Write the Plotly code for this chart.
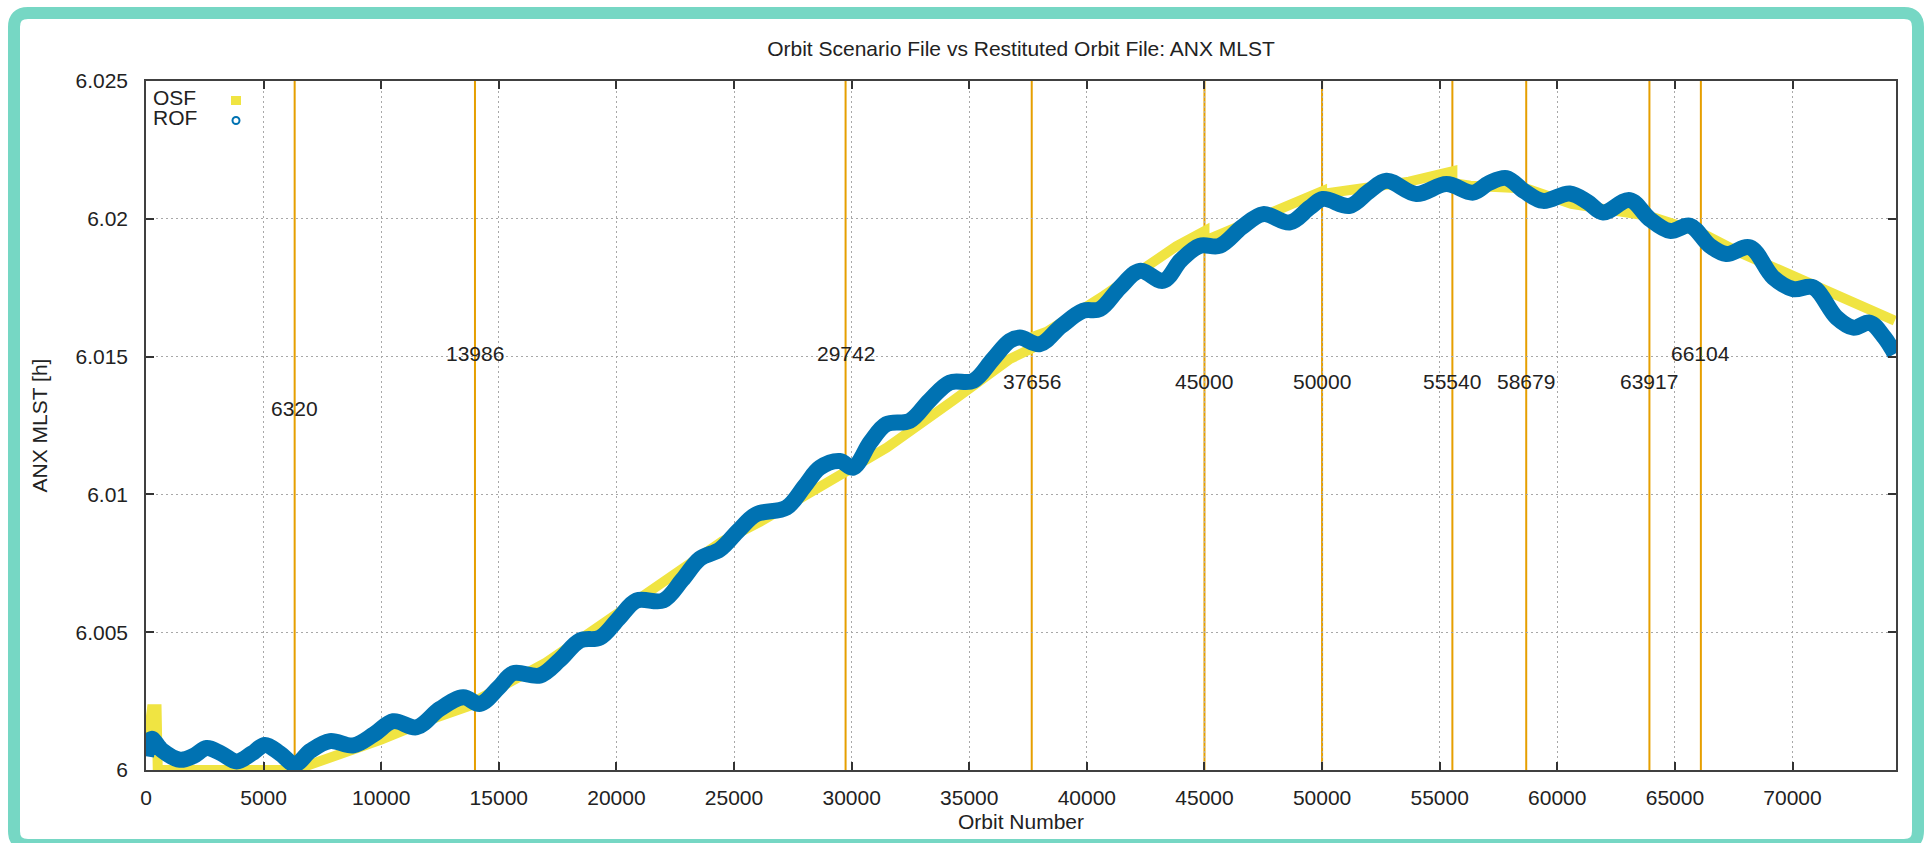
import plotly.graph_objects as go

# ---------------- data ----------------
osf_orbit = [0, 150, 250, 450, 500, 6320, 6320, 8000, 10000, 12000, 13986,
             13986, 15000, 17000, 18900, 22000, 24500, 26100, 29200, 29742,
             31500, 34300, 36700, 37656, 37656, 38300, 40700, 43800, 45000,
             45000, 48800, 50000, 50000, 53700, 55540, 55540, 56300, 58679,
             58679, 60600, 63200, 63917, 63917, 66104, 67700, 74350]
osf_mlst = [6.0006, 6.0013, 6.0022, 6.0022, 6.0000, 6.0000, 6.0000, 6.0005,
            6.0011, 6.0018, 6.0024, 6.0025, 6.0030, 6.0039, 6.0050, 6.0068,
            6.0083, 6.0090, 6.0106, 6.0108, 6.0117, 6.0134, 6.0149, 6.0153,
            6.0157, 6.0159, 6.0172, 6.0190, 6.01955, 6.0192, 6.0205, 6.0210,
            6.0209, 6.02135, 6.02172, 6.0213, 6.0212, 6.0211, 6.0211, 6.02054,
            6.0202, 6.0201, 6.0201, 6.0195, 6.0188, 6.0163]

rof_orbit = [0, 100, 240, 700, 1445, 2000, 2580, 3200, 3855, 4500, 5058, 5700,
             6334, 7000, 7820, 8815, 9700, 10515, 11505, 12500, 13490, 14200,
             15000, 15610, 16750, 17600, 18450, 19300, 20100, 20860, 21990,
             22800, 23550, 24400, 25200, 25950, 27230, 28000, 28650, 29500,
             30060, 30800, 31480, 32470, 33300, 34170, 35170, 36000, 36720,
             37150, 38000, 38900, 39840, 40550, 41400, 42250, 43250, 44000,
             44800, 45650, 46600, 47500, 48630, 49480, 50040, 51170, 52000,
             52740, 54010, 55290, 56420, 57100, 57840, 58600, 59400, 60530,
             61300, 61950, 63080, 63930, 64790, 65640, 66490, 67190, 68190,
             69180, 70030, 70880, 71870, 72580, 73290, 73900, 74350]
rof_mlst = [6.0005, 6.0009, 6.00113, 6.0007, 6.00037, 6.0005, 6.0008, 6.0006,
            6.00031, 6.0006, 6.00091, 6.0006, 6.00021, 6.0007, 6.00105,
            6.00089, 6.0013, 6.00177, 6.00155, 6.00222, 6.00264, 6.0024,
            6.0030, 6.00351, 6.00343, 6.0040, 6.0047, 6.0048, 6.0055, 6.00615,
            6.00615, 6.0069, 6.00767, 6.0080, 6.0087, 6.00928, 6.00952, 6.0103,
            6.01097, 6.01121, 6.01097, 6.0119, 6.01255, 6.01267, 6.0134,
            6.01406, 6.01412, 6.0149, 6.01557, 6.01569, 6.01545, 6.0161,
            6.01666, 6.01672, 6.0175, 6.01811, 6.01775, 6.0185, 6.01902,
            6.01902, 6.0197, 6.02017, 6.01987, 6.02041, 6.02072, 6.02047,
            6.0210, 6.02138, 6.0209, 6.02126, 6.02095, 6.0213, 6.02148, 6.0210,
            6.02065, 6.02092, 6.0206, 6.02023, 6.02068, 6.01999, 6.01956,
            6.01975, 6.01902, 6.01872, 6.01896, 6.01787, 6.01745, 6.01751,
            6.01642, 6.01605, 6.01623, 6.0157, 6.0151]

event_orbits = [6320, 13986, 29742, 37656, 45000, 50000, 55540, 58679, 63917, 66104]
event_label_y = [6.0131, 6.0151, 6.0151, 6.0141, 6.0141, 6.0141, 6.0141, 6.0141, 6.0141, 6.0151]

x_ticks = list(range(0, 70001, 5000))
x_tick_labels = [str(v) for v in x_ticks]
y_ticks = [6.0, 6.005, 6.01, 6.015, 6.02, 6.025]
y_tick_labels = ["6", "6.005", "6.01", "6.015", "6.02", "6.025"]

# ---------------- styling ----------------
W, H = 1929, 843
ML, MR, MT, MB = 146, 33, 81, 73
PW, PH = W - ML - MR, H - MT - MB
FONT = "Liberation Sans, Arial, sans-serif"
FS = 21
BLUE = "#0072B2"
YELLOW = "#F0E442"
ORANGE = "#E69F00"
TEAL = "#76D7C4"


def xp(px):
    return (px - ML) / PW


def yp(py):
    return (H - MB - py) / PH


fig = go.Figure()
fig.add_trace(go.Scatter(x=osf_orbit, y=osf_mlst, mode="lines", name="OSF",
                         line=dict(color=YELLOW, width=10), showlegend=False))
fig.add_trace(go.Scatter(x=rof_orbit, y=rof_mlst, mode="lines", name="ROF",
                         line=dict(color=BLUE, width=16, shape="spline", smoothing=1.0),
                         showlegend=False))

shapes = []
annotations = []
for orb, ly in zip(event_orbits, event_label_y):
    shapes.append(dict(type="line", xref="x", yref="paper", x0=orb, x1=orb, y0=0, y1=1,
                       line=dict(color=ORANGE, width=2), layer="between"))
    annotations.append(dict(x=orb, y=ly, xref="x", yref="y", text=str(orb), showarrow=False,
                            xanchor="center", yanchor="middle",
                            font=dict(family=FONT, size=FS, color="#222222")))

# legend (gnuplot style: text then symbol)
annotations.append(dict(x=xp(151), y=yp(98), xref="paper", yref="paper", text="OSF",
                        showarrow=False, xanchor="left", yanchor="middle",
                        font=dict(family=FONT, size=FS, color="#222222")))
annotations.append(dict(x=xp(151), y=yp(118), xref="paper", yref="paper", text="ROF",
                        showarrow=False, xanchor="left", yanchor="middle",
                        font=dict(family=FONT, size=FS, color="#222222")))
shapes.append(dict(type="rect", xref="paper", yref="paper", x0=xp(231), x1=xp(241),
                   y0=yp(105), y1=yp(96), fillcolor=YELLOW, line=dict(width=0), layer="above"))
shapes.append(dict(type="circle", xref="paper", yref="paper", x0=xp(232.5), x1=xp(239.5),
                   y0=yp(124), y1=yp(117), fillcolor="rgba(0,0,0,0)",
                   line=dict(color=BLUE, width=2), layer="above"))

# teal rounded frame
x0b, x1b, y0b, y1b, r = 14, 1918, 13, 845, 14
pts = [
    ("M", [(x0b + r, y0b)]),
    ("L", [(x1b - r, y0b)]),
    ("Q", [(x1b, y0b), (x1b, y0b + r)]),
    ("L", [(x1b, y1b - r)]),
    ("Q", [(x1b, y1b), (x1b - r, y1b)]),
    ("L", [(x0b + r, y1b)]),
    ("Q", [(x0b, y1b), (x0b, y1b - r)]),
    ("L", [(x0b, y0b + r)]),
    ("Q", [(x0b, y0b), (x0b + r, y0b)]),
]
path = " ".join(cmd + " " + " ".join(f"{xp(a):.5f},{yp(b):.5f}" for a, b in p) for cmd, p in pts) + " Z"
shapes.append(dict(type="path", xref="paper", yref="paper", path=path,
                   line=dict(color=TEAL, width=12), fillcolor="rgba(0,0,0,0)", layer="above"))

axis_common = dict(showline=True, linecolor="#404040", linewidth=1.5, mirror="ticks",
                   ticks="inside", ticklen=8, tickwidth=1.5, tickcolor="#333333",
                   showgrid=True, gridcolor="#a8a8a8", gridwidth=1, griddash="2px,3px",
                   zeroline=False, tickfont=dict(family=FONT, size=FS, color="#222222"))

fig.update_layout(
    width=W, height=H,
    margin=dict(l=ML, r=MR, t=MT, b=MB, pad=0),
    paper_bgcolor="white", plot_bgcolor="white",
    title=dict(text="Orbit Scenario File vs Restituted Orbit File: ANX MLST",
               x=0.5, xref="paper", xanchor="center", y=1 - 49 / H, yanchor="middle",
               font=dict(family=FONT, size=FS, color="#222222")),
    xaxis=dict(range=[0, 74400], tickvals=x_ticks, ticktext=x_tick_labels,
               ticklabelstandoff=8,
               title=dict(text="Orbit Number", standoff=6,
                          font=dict(family=FONT, size=FS, color="#222222")),
               **axis_common),
    yaxis=dict(range=[6.0, 6.025], tickvals=y_ticks, ticktext=y_tick_labels,
               ticklabelstandoff=12,
               title=dict(text="ANX MLST [h]", standoff=22,
                          font=dict(family=FONT, size=FS, color="#222222")),
               **axis_common),
    shapes=shapes, annotations=annotations, showlegend=False,
)

fig.write_html("out.html", config={"displayModeBar": False},
               post_script="document.body.style.margin='0';")
